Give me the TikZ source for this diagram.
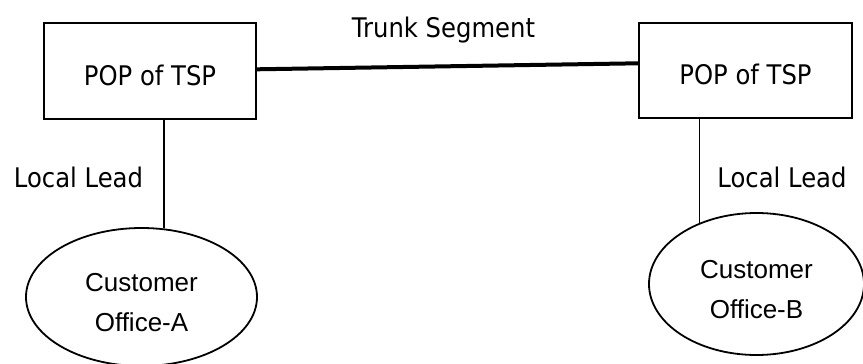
\documentclass[tikz,border=0pt]{standalone}
\usepackage{fontspec}
\setmainfont{DejaVu Sans}[FakeStretch=0.9]
\newfontfamily\arialfont{Liberation Sans}
\usetikzlibrary{shapes.geometric}
\begin{document}
\begin{tikzpicture}[x=1pt,y=-1pt,
  popbox/.style={draw,line width=1.8pt,rectangle,minimum width=212pt,minimum height=96pt,
    inner sep=0pt,text height=28pt,text depth=0pt,font=\fontsize{27}{32}\selectfont},
  office/.style={draw,line width=1.8pt,ellipse,inner sep=0pt},
  officetext/.style={inner sep=0pt,align=center,font=\arialfont\fontsize{26}{40}\selectfont},
  lead/.style={line width=1.8pt},
  trunk/.style={line width=4pt},
  lbl/.style={anchor=base,inner sep=0pt,font=\fontsize{27}{32}\selectfont}]
  \useasboundingbox (0,0) rectangle (863,364);
  \clip (0,0) rectangle (863,364);

  % points of presence
  \node[popbox] (popA) at (150,71) {POP of TSP};
  \node[popbox,minimum width=213pt,minimum height=95pt] (popB) at (745.5,70.5) {POP of TSP};

  % customer offices
  \node[office,minimum width=231pt,minimum height=138pt] (custA) at (141.5,297) {};
  \node[officetext] (custAtext) at ([yshift=-6pt]custA.center) {Customer\\Office-A};
  \node[office,minimum width=215pt,minimum height=142pt] (custB) at (756.5,284) {};
  \node[officetext] (custBtext) at ([yshift=-6pt]custB.center) {Customer\\Office-B};

  % trunk segment between the two POPs
  \draw[trunk] ([yshift=1.7pt]popA.east) -- ([yshift=7.2pt]popB.west);
  \node[lbl] (trunkLbl) at (443.5,37) {Trunk Segment};

  % local leads
  \coordinate (leadA) at (custA.72);
  \coordinate (leadB) at (custB.133);
  \draw[lead] (popA.south -| leadA) -- (leadA);
  \draw[lead] (popB.south -| leadB) -- (leadB);
  \node[lbl] (leadLblA) at (78.5,187) {Local Lead};
  \node[lbl] (leadLblB) at (782,187) {Local Lead};
\end{tikzpicture}
\end{document}
